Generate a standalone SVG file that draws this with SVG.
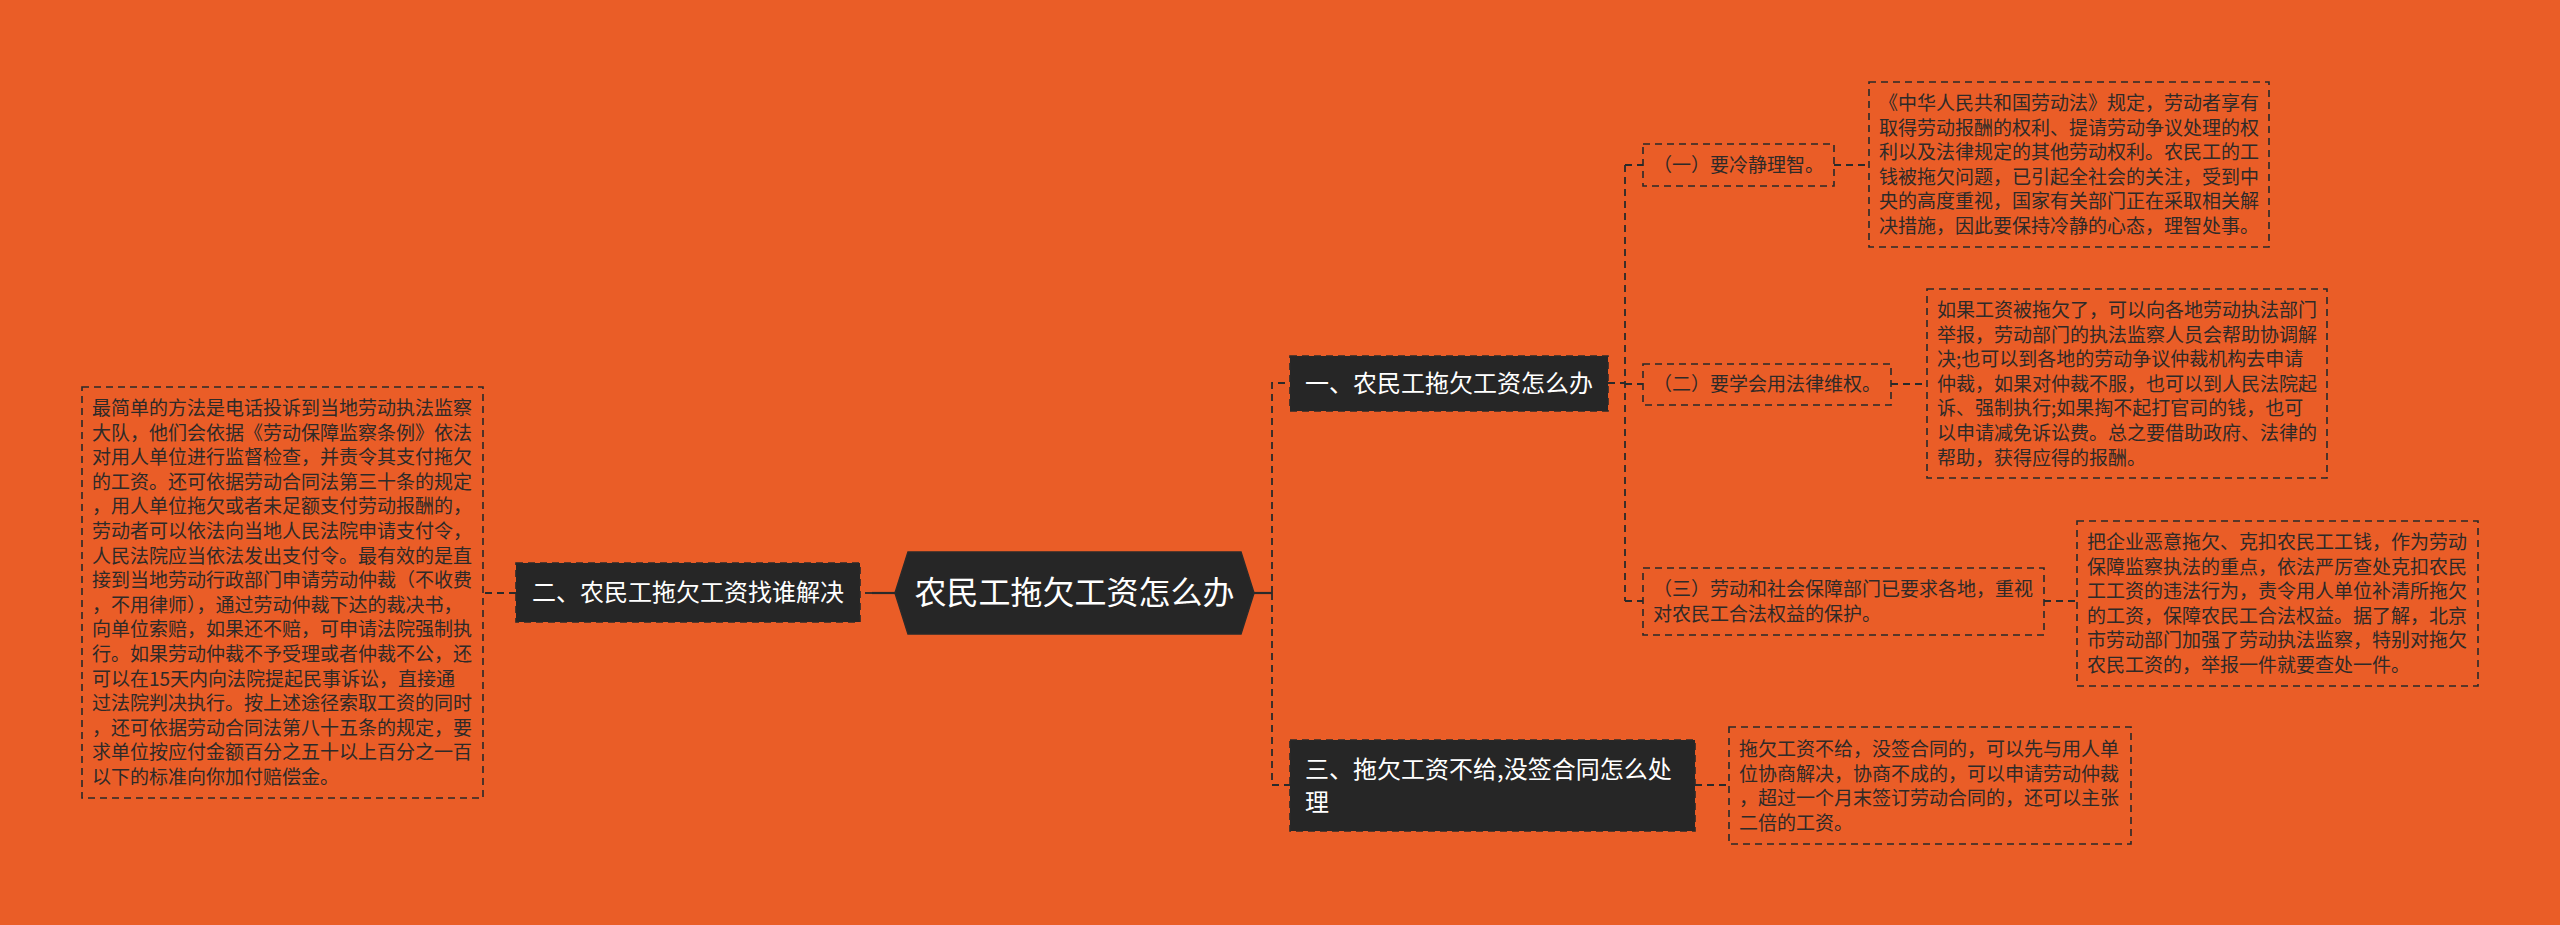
<svg xmlns="http://www.w3.org/2000/svg" width="2560" height="925" viewBox="0 0 2560 925">
<style>
.bg{fill:#EA5D27}
.tb{fill:none;stroke:#2a2a2a;stroke-width:1.6;stroke-dasharray:7 5}
.dk{fill:#262626;stroke:#2a2a2a;stroke-width:1.6;stroke-dasharray:7 5}
.t{font-family:"Noto Sans CJK SC","Noto Sans",sans-serif;font-size:19px;fill:#2e2a28}
.w{font-family:"Noto Sans CJK SC","Noto Sans",sans-serif;font-size:24px;fill:#ffffff}
.r{font-family:"Noto Sans CJK SC","Noto Sans",sans-serif;font-size:32px;fill:#ffffff}
.c{fill:none;stroke:#2a2a2a;stroke-width:1.8;stroke-dasharray:7 5}
.cs{fill:none;stroke:#2a2a2a;stroke-width:2.2}
</style>
<rect class="bg" x="0" y="0" width="2560" height="925"/>
<g id="connectors">
<path class="cs" d="M1254 593 H1272"/>
<path class="c" d="M1272 593 V383 H1290 M1272 593 V785 H1290"/>
<path class="cs" d="M895 593 H872"/>
<path class="c" d="M872 593 H860"/>
<path class="c" d="M516 593 H483"/>
<path class="c" d="M1608 383 H1625 M1625 165 V601 M1625 165 H1643 M1625 384 H1643 M1625 601 H1643"/>
<path class="c" d="M1834 165 H1869"/>
<path class="c" d="M1891 384 H1927"/>
<path class="c" d="M2044 601 H2077"/>
<path class="c" d="M1695 785 H1729"/>
</g>
<g id="root">
<polygon points="895,593 908,552 1241,552 1254,593 1241,634 908,634" fill="#262626" stroke="#2a2a2a" stroke-width="1.5"/>
<text class="r" x="1074.5" y="604" text-anchor="middle">农民工拖欠工资怎么办</text>
</g>
<g id="n2">
<rect class="dk" x="516" y="563" width="344" height="59"/>
<text class="w" x="688" y="601" text-anchor="middle">二、农民工拖欠工资找谁解决</text>
</g>
<g id="n2t">
<rect class="tb" x="82" y="387" width="401" height="411"/>
<text class="t" y="415">
<tspan x="92">最简单的方法是电话投诉到当地劳动执法监察</tspan>
<tspan x="92" dy="24.6">大队，他们会依据《劳动保障监察条例》依法</tspan>
<tspan x="92" dy="24.6">对用人单位进行监督检查，并责令其支付拖欠</tspan>
<tspan x="92" dy="24.6">的工资。还可依据劳动合同法第三十条的规定</tspan>
<tspan x="92" dy="24.6">，用人单位拖欠或者未足额支付劳动报酬的，</tspan>
<tspan x="92" dy="24.6">劳动者可以依法向当地人民法院申请支付令，</tspan>
<tspan x="92" dy="24.6">人民法院应当依法发出支付令。最有效的是直</tspan>
<tspan x="92" dy="24.6">接到当地劳动行政部门申请劳动仲裁（不收费</tspan>
<tspan x="92" dy="24.6">，不用律师），通过劳动仲裁下达的裁决书，</tspan>
<tspan x="92" dy="24.6">向单位索赔，如果还不赔，可申请法院强制执</tspan>
<tspan x="92" dy="24.6">行。如果劳动仲裁不予受理或者仲裁不公，还</tspan>
<tspan x="92" dy="24.6">可以在15天内向法院提起民事诉讼，直接通</tspan>
<tspan x="92" dy="24.6">过法院判决执行。按上述途径索取工资的同时</tspan>
<tspan x="92" dy="24.6">，还可依据劳动合同法第八十五条的规定，要</tspan>
<tspan x="92" dy="24.6">求单位按应付金额百分之五十以上百分之一百</tspan>
<tspan x="92" dy="24.6">以下的标准向你加付赔偿金。</tspan>
</text>
</g>
<g id="n1">
<rect class="dk" x="1290" y="356" width="318" height="55"/>
<text class="w" x="1449" y="392" text-anchor="middle">一、农民工拖欠工资怎么办</text>
</g>
<g id="n3">
<rect class="dk" x="1290" y="740" width="405" height="91"/>
<text class="w" y="777.5"><tspan x="1305">三、拖欠工资不给,没签合同怎么处</tspan><tspan x="1305" dy="33">理</tspan></text>
</g>
<g id="n11">
<rect class="tb" x="1643" y="144" width="191" height="42"/>
<text class="t" x="1653" y="172">（一）要冷静理智。</text>
</g>
<g id="n11t">
<rect class="tb" x="1869" y="82" width="400" height="165"/>
<text class="t" y="110">
<tspan x="1879">《中华人民共和国劳动法》规定，劳动者享有</tspan>
<tspan x="1879" dy="24.6">取得劳动报酬的权利、提请劳动争议处理的权</tspan>
<tspan x="1879" dy="24.6">利以及法律规定的其他劳动权利。农民工的工</tspan>
<tspan x="1879" dy="24.6">钱被拖欠问题，已引起全社会的关注，受到中</tspan>
<tspan x="1879" dy="24.6">央的高度重视，国家有关部门正在采取相关解</tspan>
<tspan x="1879" dy="24.6">决措施，因此要保持冷静的心态，理智处事。</tspan>
</text>
</g>
<g id="n12">
<rect class="tb" x="1643" y="364" width="248" height="41"/>
<text class="t" x="1653" y="391">（二）要学会用法律维权。</text>
</g>
<g id="n12t">
<rect class="tb" x="1927" y="289" width="400" height="189"/>
<text class="t" y="317">
<tspan x="1937">如果工资被拖欠了，可以向各地劳动执法部门</tspan>
<tspan x="1937" dy="24.6">举报，劳动部门的执法监察人员会帮助协调解</tspan>
<tspan x="1937" dy="24.6">决;也可以到各地的劳动争议仲裁机构去申请</tspan>
<tspan x="1937" dy="24.6">仲裁，如果对仲裁不服，也可以到人民法院起</tspan>
<tspan x="1937" dy="24.6">诉、强制执行;如果掏不起打官司的钱，也可</tspan>
<tspan x="1937" dy="24.6">以申请减免诉讼费。总之要借助政府、法律的</tspan>
<tspan x="1937" dy="24.6">帮助，获得应得的报酬。</tspan>
</text>
</g>
<g id="n13">
<rect class="tb" x="1643" y="568" width="401" height="67"/>
<text class="t" y="596"><tspan x="1653">（三）劳动和社会保障部门已要求各地，重视</tspan><tspan x="1653" dy="24.6">对农民工合法权益的保护。</tspan></text>
</g>
<g id="n13t">
<rect class="tb" x="2077" y="521" width="401" height="165"/>
<text class="t" y="549">
<tspan x="2087">把企业恶意拖欠、克扣农民工工钱，作为劳动</tspan>
<tspan x="2087" dy="24.6">保障监察执法的重点，依法严厉查处克扣农民</tspan>
<tspan x="2087" dy="24.6">工工资的违法行为，责令用人单位补清所拖欠</tspan>
<tspan x="2087" dy="24.6">的工资，保障农民工合法权益。据了解，北京</tspan>
<tspan x="2087" dy="24.6">市劳动部门加强了劳动执法监察，特别对拖欠</tspan>
<tspan x="2087" dy="24.6">农民工资的，举报一件就要查处一件。</tspan>
</text>
</g>
<g id="n3t">
<rect class="tb" x="1729" y="727" width="402" height="117"/>
<text class="t" y="756">
<tspan x="1739">拖欠工资不给，没签合同的，可以先与用人单</tspan>
<tspan x="1739" dy="24.6">位协商解决，协商不成的，可以申请劳动仲裁</tspan>
<tspan x="1739" dy="24.6">，超过一个月末签订劳动合同的，还可以主张</tspan>
<tspan x="1739" dy="24.6">二倍的工资。</tspan>
</text>
</g>
</svg>
